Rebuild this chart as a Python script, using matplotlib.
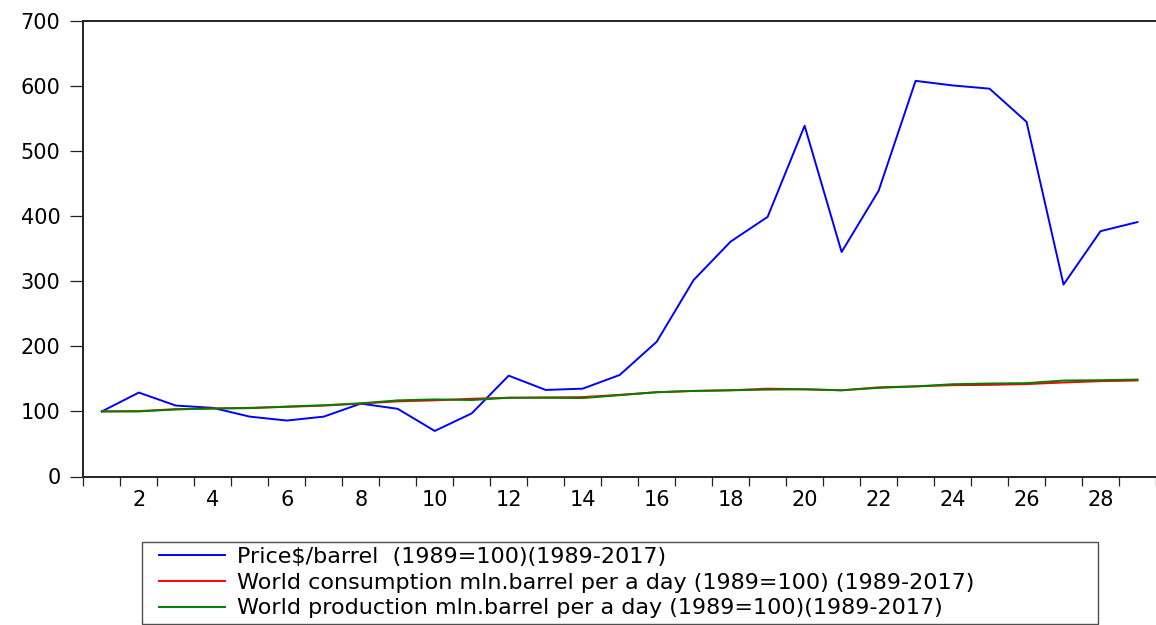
import numpy as np
import matplotlib
matplotlib.use("Agg")
import matplotlib.pyplot as plt
from matplotlib import figure
from matplotlib.lines import Line2D
from matplotlib.legend_handler import HandlerLine2D

# index 1..29 (1989-2017), 1989 = 100
years: list[int] = list(range(1, 30))
price: list[float] = [100, 129, 109, 105.5, 92, 86, 92, 112, 104, 70,
                      97, 155, 133, 135, 156, 207, 302, 361, 399, 539,
                      345, 439, 608, 601, 596, 545, 295, 377, 391]
consumption: list[float] = [100, 100.5, 103.5, 104.5, 105.5, 107, 109, 112, 115.5, 117,
                            119.5, 121, 121.5, 122, 125.5, 129.5, 131.5, 132.5, 135, 134,
                            132.5, 137, 138.5, 140.3, 140.8, 142, 144.5, 146.5, 147.5]
production: list[float] = [100, 100, 103, 104.5, 105, 107.5, 109.5, 112.5, 117, 118.5,
                           117.5, 121, 121, 120.5, 125, 129.5, 131.5, 132.5, 133.5, 134,
                           132.5, 136.2, 138.5, 141.8, 142.9, 143.5, 147.5, 148, 149]
labels: list[str] = [
    "Price$/barrel  (1989=100)(1989-2017)",
    "World consumption mln.barrel per a day (1989=100) (1989-2017)",
    "World production mln.barrel per a day (1989=100)(1989-2017)",
]
colors: list[str] = ["#0000ff", "#ff0000", "#008000"]

plt.rcParams["font.family"] = ["DejaVu Sans"]

fig: figure.Figure = plt.figure(figsize=(11.56, 6.25), dpi=100)
ax = fig.add_axes((0.0721, 0.2376, 0.9279, 0.7288))

for series, label, color in zip([price, consumption, production], labels, colors):
    ax.plot(years, series, color=color, linewidth=1.4, label=label)

ax.set_xlim(0.5, 29.5)
ax.set_ylim(0, 700)

ax.set_yticks(np.arange(0, 701, 100))
ax.tick_params(axis="y", direction="out", length=9.5, width=0.9, pad=7, labelsize=15, color="#222222")

ax.set_xticks(np.arange(2, 29, 2))
ax.set_xticks(np.arange(0.5, 30, 1), minor=True)
ax.tick_params(axis="x", which="major", length=0, pad=10, labelsize=15)
ax.tick_params(axis="x", which="minor", direction="out", length=6.5, width=0.9, color="#222222")

for side in ["left", "bottom", "top"]:
    ax.spines[side].set_linewidth(1.4)
    ax.spines[side].set_color("#222222")
ax.spines["right"].set_visible(False)

leg = fig.legend(loc="upper left", bbox_to_anchor=(0.1231, 0.0035, 0.8269, 0.1298),
                 mode="expand", fontsize=16, frameon=True, fancybox=False,
                 handlelength=3.47, handletextpad=0.54, labelspacing=0.25,
                 borderpad=0.25, borderaxespad=0.0,
                 handler_map={Line2D: HandlerLine2D(xpad=0.5)})
leg.get_frame().set_edgecolor("#222222")
leg.get_frame().set_linewidth(1.0)

fig.savefig("out.png", dpi=100)
